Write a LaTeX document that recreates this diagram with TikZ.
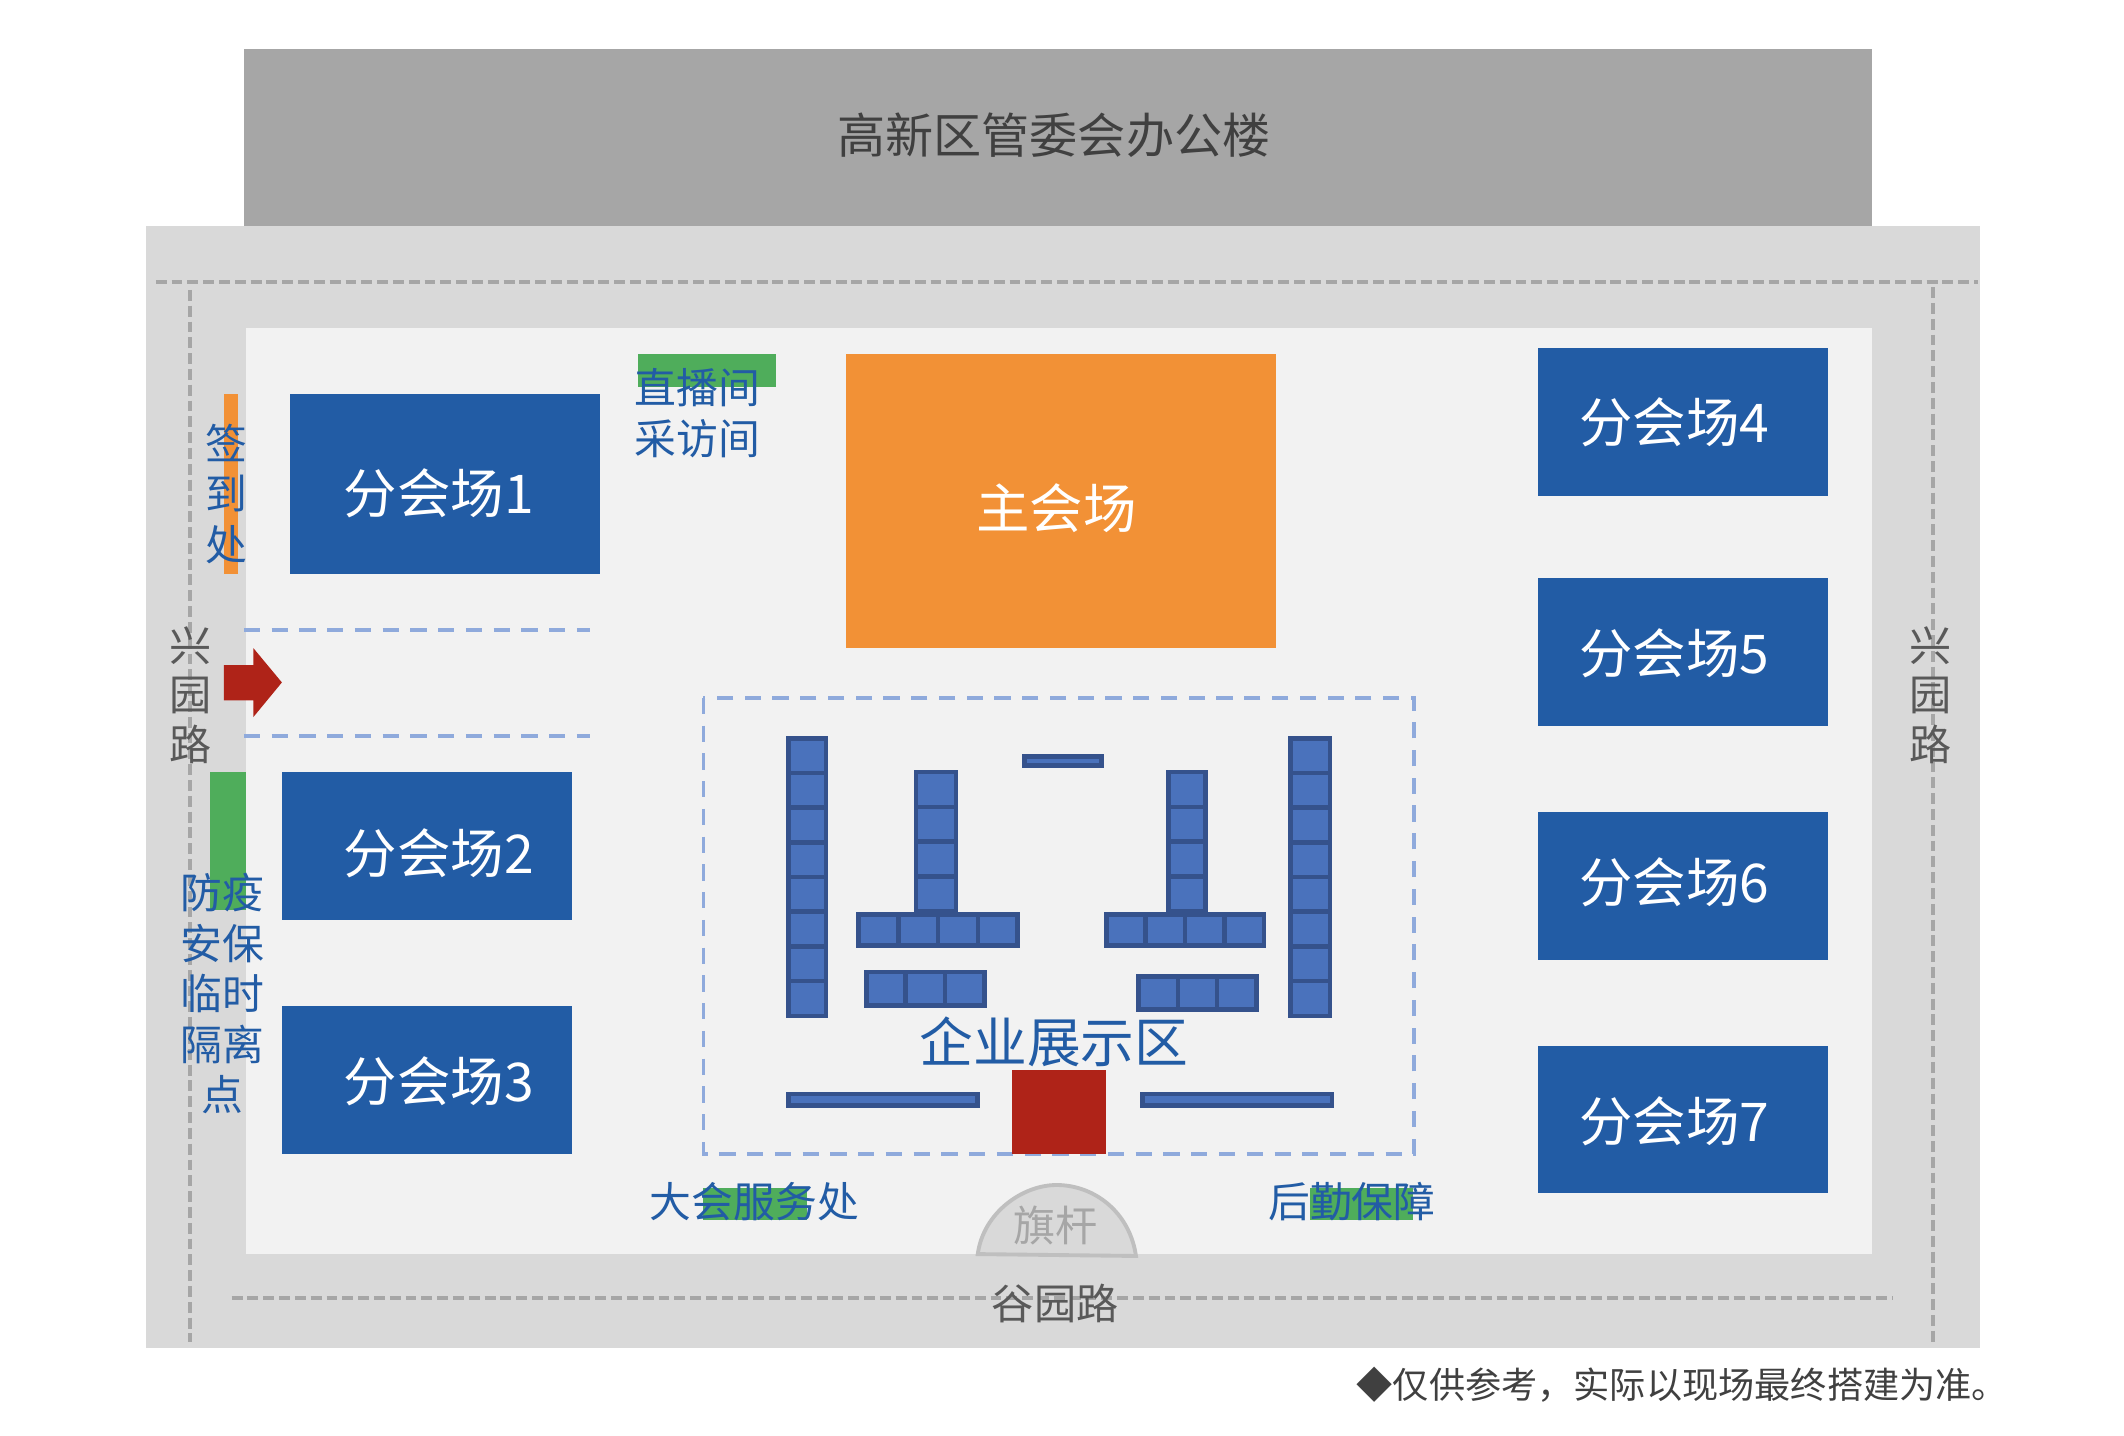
\documentclass[tikz,border=0pt]{standalone}
\usepackage{fontspec}
\setmainfont{Noto Sans CJK SC}
\usepackage{tikz}
\usetikzlibrary{positioning}

\definecolor{road}{HTML}{D9D9D9}
\definecolor{yard}{HTML}{F2F2F2}
\definecolor{tower}{HTML}{A6A6A6}
\definecolor{hallblue}{HTML}{225CA5}
\definecolor{mainorange}{HTML}{F29136}
\definecolor{spotgreen}{HTML}{4FAD5B}
\definecolor{gatered}{HTML}{AF2318}
\definecolor{boothfill}{HTML}{4A72BC}
\definecolor{boothline}{HTML}{35528C}
\definecolor{zoneline}{HTML}{8FAADC}

\tikzset{
    roadline/.style={draw=tower,line width=1.1pt,dash pattern=on 3.1pt off 1.4pt},
    zoneedge/.style={draw=zoneline,line width=1.1pt,dash pattern=on 4.6pt off 3.3pt},
    booth/.style={fill=boothfill,draw=boothline,line width=1.3pt},
    hallname/.style={inner sep=0pt,text=white,font=\fontsize{15.2}{18}\selectfont},
    bluename/.style={inner sep=0pt,align=center,text=hallblue,font=\fontsize{11.9}{14.4}\selectfont},
    roadname/.style={inner sep=0pt,align=center,text=black!65,font=\fontsize{12}{14.1}\selectfont}
}

\begin{document}
\begin{tikzpicture}[x=0.013546cm,y=-0.013546cm]
        \useasboundingbox (0,0) rectangle (1568,1060.1);

        % ground
        \fill[tower] (180,36) rectangle (1382,167);
        \fill[road] (108,167) rectangle (1462,995);
        \fill[yard] (181.6,242) rectangle (1382,925.8);
        \draw[roadline] (115,208.3) -- (1460,208.3);
        \draw[roadline] (140.3,214) -- (140.3,990.5);
        \draw[roadline] (1427,212) -- (1427,990.5);
        \draw[roadline] (171,958.4) -- (1397,958.4);

        % halls
        \fill[hallblue] (214,290.8) rectangle (442.9,423.6);
        \fill[hallblue] (208.2,570) rectangle (422.3,679);
        \fill[hallblue] (208.2,742.7) rectangle (422.3,851.9);
        \fill[hallblue] (1135.3,257) rectangle (1349.5,366);
        \fill[hallblue] (1135.3,427) rectangle (1349.5,536);
        \fill[hallblue] (1135.3,599.5) rectangle (1349.5,708.5);
        \fill[hallblue] (1135.3,772) rectangle (1349.5,881);
        \fill[mainorange] (624.5,261.5) rectangle (942,478.5);

        % service spots
        \fill[spotgreen] (471,261.5) rectangle (573,286);
        \fill[mainorange] (165.2,290.8) rectangle (175.8,423.6);
        \fill[spotgreen] (155,570) rectangle (181.6,671.8);
        \fill[spotgreen] (519.1,877) rectangle (595.5,900.6);
        \fill[spotgreen] (967,877) rectangle (1043.4,900.6);

        % entrance
        \draw[zoneedge] (180,465) -- (435.6,465);
        \draw[zoneedge] (180,543.3) -- (435.6,543.3);
        \fill[gatered] (165.2,491) -- (187,491) -- (187,478.4) -- (208.1,503.8) -- (187,529.4) -- (187,517) -- (165.2,517) -- cycle;

        % exhibition zone
        \draw[zoneedge] (519.3,515.2) rectangle (1044,851.8);
        \foreach \i in {0,1,...,7}
            \draw[booth] (581.9,545.1+\i*25.6) rectangle (609.8,570.7+\i*25.6);
        \foreach \i in {0,1,...,7}
            \draw[booth] (952.6,545.1+\i*25.6) rectangle (981.8,570.7+\i*25.6);
        \foreach \i in {0,1,2,3}
            \draw[booth] (676.3,570+\i*25.7) rectangle (705.6,595.7+\i*25.7);
        \foreach \i in {0,1,2,3}
            \draw[booth] (862.6,570+\i*25.7) rectangle (890,595.7+\i*25.7);
        \foreach \i in {0,1,2,3}
            \draw[booth] (633.7+\i*29.4,675) rectangle (663.1+\i*29.4,698.1);
        \foreach \i in {0,1,2,3}
            \draw[booth] (816.7+\i*29.1,675) rectangle (845.8+\i*29.1,698.1);
        \foreach \i in {0,1,2}
            \draw[booth] (639.6+\i*29,717.7) rectangle (668.6+\i*29,742.3);
        \foreach \i in {0,1,2}
            \draw[booth] (840.5+\i*29,720.7) rectangle (869.5+\i*29,745.3);
        \draw[booth] (756.4,558.4) rectangle (813.2,565.3);
        \draw[booth] (581.9,807.7) rectangle (721.8,816.3);
        \draw[booth] (843.5,807.7) rectangle (983.3,816.3);
        \fill[gatered] (747,789.8) rectangle (816.4,851.8);

        % flagpole
        \draw[fill=road,draw=black!25,line width=1.1pt] (721.8,925.8) .. controls (726,895) and (755,874.8) .. (780,874.8) .. controls (808,874.8) and (834,895) .. (838.6,927.2) -- cycle;

        % names
        \node[inner sep=0pt,text=black!75,font=\fontsize{13.7}{16}\selectfont] (tower) at (778,100) {高新区管委会办公楼};
        \node[hallname] (hallone) at (324,364) {分会场1};
        \node[hallname] (halltwo) at (324,630) {分会场2};
        \node[hallname] (hallthree) at (324,798) {分会场3};
        \node[hallname] (hallfour) at (1236,312) {分会场4};
        \node[hallname] (hallfive) at (1236,482) {分会场5};
        \node[hallname] (hallsix) at (1236,651) {分会场6};
        \node[hallname] (hallseven) at (1236,828) {分会场7};
        \node[hallname] (mainhall) at (780,375) {主会场};
        \node[bluename] (studio) at (515,305) {直播间\\采访间};
        \node[bluename] (signin) at (167,364.5) {签\\到\\处};
        \node[bluename] (quarantine) at (164,733.5) {防疫\\安保\\临时\\隔离\\点};
        \node[bluename,font=\fontsize{15.3}{18}\selectfont] (expo) at (778,769) {企业展示区};
        \node[bluename] (service) at (557,887) {大会服务处};
        \node[bluename] (logistics) at (998,887) {后勤保障};
        \node[roadname,text=tower] (flagpole) at (779,905) {旗杆};
        \node[roadname] (southroad) at (779,962) {谷园路};
        \node[roadname] (westroad) at (141,513) {兴\\园\\路};
        \node[roadname] (eastroad) at (1425,513) {兴\\园\\路};
        \node[anchor=west,inner sep=0pt,text=black!75,font=\fontsize{10.3}{12}\selectfont] (note) at (1001,1022) {◆仅供参考，实际以现场最终搭建为准。};
    \end{tikzpicture}
\end{document}
